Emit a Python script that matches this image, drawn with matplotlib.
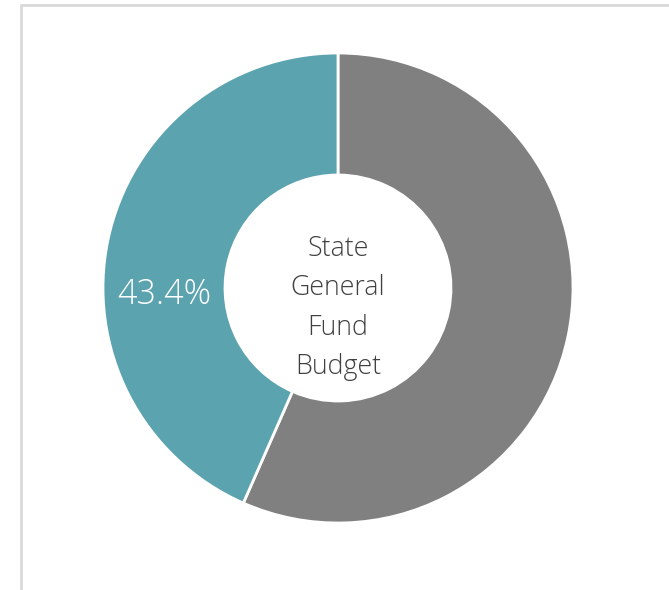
import matplotlib.pyplot as plt

# data
labels = ['Other', 'State General Fund Budget']
shares = [56.6, 43.4]
colors = ['#808080', '#5ba3af']
center_text = 'State\nGeneral\nFund\nBudget'

W, H = 669, 590
fig = plt.figure(figsize=(W / 100, H / 100), dpi=100)
ax = fig.add_axes([0, 0, 1, 1])

cx, cy = 338, H - 288
r_out, r_in = 235, 113

ax.pie(shares, colors=colors, startangle=90, counterclock=False,
       center=(cx, cy), radius=r_out, frame=True,
       wedgeprops=dict(width=r_out - r_in, edgecolor='white', linewidth=2))
ax.set_xlim(0, W)
ax.set_ylim(0, H)
ax.axis('off')

# label for the teal slice
ax.text(164, H - 295, '%.1f%%' % shares[1], color='white', fontsize=24.5,
        family=['Open Sans', 'DejaVu Sans'], fontweight='light',
        ha='center', va='center')

# hole text
ax.text(cx, H - 308, center_text, color='#404040', fontsize=19.3,
        family=['Open Sans', 'DejaVu Sans'], fontweight='light',
        ha='center', va='center', linespacing=1.53)

# frame lines
ax.plot([21, 21], [H - 5, 0], color='#d9d9d9', lw=2, solid_capstyle='butt')
ax.plot([20, W], [H - 5, H - 5], color='#d9d9d9', lw=2, solid_capstyle='butt')

fig.savefig('out.png', dpi=100)
